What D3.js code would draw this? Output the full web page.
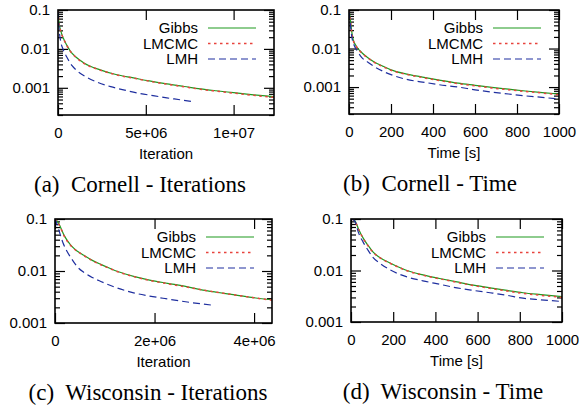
<!DOCTYPE html>
<html>
<head>
<meta charset="utf-8">
<script src="https://cdn.jsdelivr.net/npm/d3@7/dist/d3.min.js"></script>
<style>
	body { margin: 0; background: #fff; }
	svg { display: block; }
	.tick text { font-family: "Liberation Sans", Arial, sans-serif; font-size: 15px; fill: #000; }
	.tick line { stroke: #000; stroke-width: 1.2px; }
</style>
</head>
<body>
<svg id="chart" width="579" height="409"></svg>
<script>
// series names / legend
var seriesNames = ["Gibbs", "LMCMC", "LMH"];

// (a) Cornell - Iterations
var cornellIterX     = [0, 0.05e6, 0.15e6, 0.3e6, 0.5e6, 0.7e6, 1e6, 1.5e6, 2.4e6, 3.3e6, 4.3e6, 5.2e6, 6.2e6, 7.2e6, 8.1e6, 9e6, 10e6, 11e6, 12.3e6];
var cornellIterGibbs = [0.095, 0.05, 0.03, 0.019, 0.0125, 0.0088, 0.0063, 0.0043, 0.0029, 0.0022, 0.0018, 0.0015, 0.00126, 0.00108, 0.00094, 0.00084, 0.00075, 0.00067, 0.00059];
var cornellIterLMCMC = [0.094, 0.049, 0.029, 0.0188, 0.0123, 0.0087, 0.0062, 0.0042, 0.00285, 0.00217, 0.00177, 0.00148, 0.00124, 0.00106, 0.00092, 0.00082, 0.00073, 0.00065, 0.00057];
var cornellIterLMHX  = [0, 0.05e6, 0.15e6, 0.3e6, 0.5e6, 0.8e6, 1.1e6, 1.6e6, 2.2e6, 3e6, 3.8e6, 4.7e6, 5.5e6, 6.2e6, 7e6, 7.66e6];
var cornellIterLMH   = [0.09, 0.037, 0.016, 0.0095, 0.0062, 0.0037, 0.0027, 0.0019, 0.00142, 0.00107, 0.00087, 0.00071, 0.00062, 0.00055, 0.00049, 0.00044];

// (b) Cornell - Time
var cornellTimeX     = [0, 5, 12, 20, 35, 60, 90, 120, 160, 200, 270, 350, 430, 520, 600, 680, 760, 840, 920, 1000];
var cornellTimeGibbs = [0.095, 0.066, 0.03, 0.017, 0.0115, 0.0079, 0.0058, 0.0045, 0.0035, 0.0028, 0.0022, 0.00182, 0.00152, 0.00126, 0.00111, 0.00098, 0.00088, 0.00079, 0.00072, 0.00066];
var cornellTimeLMCMC = [0.094, 0.064, 0.029, 0.0165, 0.0112, 0.0077, 0.0057, 0.0044, 0.0034, 0.00272, 0.00215, 0.00177, 0.00148, 0.00123, 0.00108, 0.00095, 0.00085, 0.00077, 0.0007, 0.00063];
var cornellTimeLMHX  = [0, 5, 10, 15, 25, 40, 60, 90, 120, 160, 200, 270, 350, 430, 520, 600, 680, 760, 840, 920, 1000];
var cornellTimeLMH   = [0.09, 0.05, 0.028, 0.018, 0.012, 0.0085, 0.0059, 0.0044, 0.0034, 0.0026, 0.0021, 0.0016, 0.00135, 0.00115, 0.001, 0.00085, 0.00074, 0.00066, 0.00059, 0.00054, 0.00049];

// (c) Wisconsin - Iterations
var wiscIterX     = [0, 0.03e6, 0.08e6, 0.18e6, 0.32e6, 0.45e6, 0.58e6, 0.75e6, 0.92e6, 1.1e6, 1.26e6, 1.58e6, 1.9e6, 2.26e6, 2.6e6, 2.92e6, 3.25e6, 3.58e6, 3.95e6, 4.36e6];
var wiscIterGibbs = [0.1, 0.095, 0.08, 0.049, 0.031, 0.024, 0.02, 0.016, 0.0134, 0.0113, 0.0098, 0.0079, 0.0067, 0.0058, 0.0051, 0.0044, 0.0039, 0.0035, 0.0031, 0.0028];
var wiscIterLMCMC = [0.1, 0.094, 0.079, 0.048, 0.0305, 0.0237, 0.0198, 0.0158, 0.0132, 0.0112, 0.0097, 0.0078, 0.0066, 0.0057, 0.005, 0.0044, 0.0039, 0.0035, 0.0031, 0.00275];
var wiscIterLMHX  = [0, 0.03e6, 0.08e6, 0.16e6, 0.24e6, 0.32e6, 0.45e6, 0.58e6, 0.75e6, 0.92e6, 1.2e6, 1.58e6, 1.9e6, 2.26e6, 2.7e6, 3.16e6];
var wiscIterLMH   = [0.1, 0.085, 0.06, 0.035, 0.024, 0.018, 0.012, 0.0094, 0.0075, 0.0063, 0.0049, 0.0038, 0.0033, 0.0029, 0.0025, 0.0022];

// (d) Wisconsin - Time
var wiscTimeX     = [5, 19, 35, 57, 80, 104, 140, 185, 225, 265, 341, 420, 502, 580, 659, 740, 815, 900, 1000];
var wiscTimeGibbs = [0.1, 0.092, 0.065, 0.043, 0.031, 0.023, 0.0175, 0.014, 0.0117, 0.01, 0.0082, 0.007, 0.006, 0.0052, 0.0046, 0.0041, 0.0037, 0.0034, 0.0031];
var wiscTimeLMCMC = [0.1, 0.091, 0.064, 0.0425, 0.0305, 0.0227, 0.0173, 0.0138, 0.0116, 0.0099, 0.0081, 0.0069, 0.0059, 0.0051, 0.0045, 0.004, 0.0036, 0.0033, 0.003];
var wiscTimeLMH   = [0.1, 0.09, 0.055, 0.036, 0.025, 0.018, 0.0135, 0.0103, 0.0086, 0.0075, 0.0063, 0.0054, 0.0046, 0.0041, 0.0037, 0.0033, 0.0029, 0.0027, 0.0025];

// axis ticks
var iterTicksCornell = [0, 5e6, 1e7];
var iterTicksWisc    = [0, 2e6, 4e6];
var timeTicks        = [0, 200, 400, 600, 800, 1000];
var yMajorTicks      = [0.001, 0.01, 0.1];

var colors	= { Gibbs: "#1f9a1f", LMCMC: "#e8433d", LMH: "#1f2f9f" },
	dashes	= { Gibbs: null, LMCMC: "2.5,3.5", LMH: "7,4" },
	widths	= { Gibbs: 1.2, LMCMC: 1.5, LMH: 1.2 };

function sciFmt(v) {
	if (v === 0) return "0";
	return d3.format(".0e")(v).replace(/e([+-])(\d)$/, "e$10$2");
}

var panels = [
	{ left: 58, top: 10, right: 274, bottom: 115, xmax: 1.23e7, ymin: 0.0002, xticks: iterTicksCornell, fmt: sciFmt,
	  xlabel: "Iteration", caption: "(a)  Cornell - Iterations", capX: 140,
	  series: [[cornellIterX, cornellIterGibbs], [cornellIterX, cornellIterLMCMC], [cornellIterLMHX, cornellIterLMH]] },
	{ left: 349, top: 10, right: 559, bottom: 114, xmax: 1000, ymin: 0.0002, xticks: timeTicks, fmt: d3.format("d"),
	  xlabel: "Time [s]", caption: "(b)  Cornell - Time", capX: 430,
	  series: [[cornellTimeX, cornellTimeGibbs], [cornellTimeX, cornellTimeLMCMC], [cornellTimeLMHX, cornellTimeLMH]] },
	{ left: 55, top: 219, right: 272, bottom: 323, xmax: 4.36e6, ymin: 0.001, xticks: iterTicksWisc, fmt: sciFmt,
	  xlabel: "Iteration", caption: "(c)  Wisconsin - Iterations", capX: 148,
	  series: [[wiscIterX, wiscIterGibbs], [wiscIterX, wiscIterLMCMC], [wiscIterLMHX, wiscIterLMH]] },
	{ left: 351, top: 219, right: 562, bottom: 322, xmax: 1000, ymin: 0.001, xticks: timeTicks, fmt: d3.format("d"),
	  xlabel: "Time [s]", caption: "(d)  Wisconsin - Time", capX: 443,
	  series: [[wiscTimeX, wiscTimeGibbs], [wiscTimeX, wiscTimeLMCMC], [wiscTimeX, wiscTimeLMH]] }
];

var svg = d3.select("#chart");

panels.forEach(function(p, pi) {
	var w = p.right - p.left, h = p.bottom - p.top;
	var x = d3.scaleLinear().domain([0, p.xmax]).range([0, w]);
	var y = d3.scaleLog().domain([p.ymin, 0.1]).range([h, 0]);
	var minor = y.ticks().filter(function(t) { return yMajorTicks.indexOf(+t.toPrecision(3)) < 0; });
	var g = svg.append("g").attr("transform", "translate(" + p.left + "," + p.top + ")");

	var clipId = "clip" + pi;
	g.append("clipPath").attr("id", clipId).append("rect").attr("width", w).attr("height", h);

	// axes, ticks pointing inward
	g.append("g").attr("transform", "translate(0," + h + ")")
		.call(d3.axisBottom(x).tickValues(p.xticks).tickSize(-10).tickPadding(12).tickFormat(p.fmt));
	g.append("g").call(d3.axisTop(x).tickValues(p.xticks).tickSize(-10).tickFormat(""));
	g.append("g").call(d3.axisLeft(y).tickValues(yMajorTicks).tickSize(-10).tickPadding(8).tickFormat(d3.format("~g")));
	g.append("g").call(d3.axisLeft(y).tickValues(minor).tickSize(-5).tickFormat(""));
	g.append("g").attr("transform", "translate(" + w + ",0)")
		.call(d3.axisRight(y).tickValues(yMajorTicks).tickSize(-10).tickFormat(""));
	g.append("g").attr("transform", "translate(" + w + ",0)")
		.call(d3.axisRight(y).tickValues(minor).tickSize(-5).tickFormat(""));
	g.selectAll(".domain").remove();

	// curves
	var line = d3.line().curve(d3.curveMonotoneX)
		.x(function(d) { return x(d[0]); })
		.y(function(d) { return y(d[1]); });
	var lines = g.append("g").attr("clip-path", "url(#" + clipId + ")");
	p.series.forEach(function(s, i) {
		var name = seriesNames[i];
		lines.append("path").datum(d3.zip(s[0], s[1]))
			.attr("d", line)
			.attr("fill", "none")
			.attr("stroke", colors[name])
			.attr("stroke-width", widths[name])
			.attr("stroke-dasharray", dashes[name]);
	});

	// legend
	var leg = g.append("g");
	seriesNames.forEach(function(name, i) {
		var ly = 18 + i * 15.5;
		leg.append("text")
			.attr("x", w - 76).attr("y", ly).attr("dy", "0.36em")
			.attr("text-anchor", "end")
			.style("font-family", "Liberation Sans, Arial, sans-serif")
			.style("font-size", "15px")
			.text(name);
		leg.append("line")
			.attr("x1", w - 66).attr("x2", w - 18)
			.attr("y1", ly).attr("y2", ly)
			.attr("stroke", colors[name])
			.attr("stroke-width", widths[name])
			.attr("stroke-dasharray", dashes[name]);
	});

	// frame
	g.append("rect").attr("width", w).attr("height", h)
		.attr("fill", "none").attr("stroke", "#000").attr("stroke-width", 1.6);

	// x label and caption
	g.append("text")
		.attr("x", w / 2).attr("y", h + 44)
		.attr("text-anchor", "middle")
		.style("font-family", "Liberation Sans, Arial, sans-serif")
		.style("font-size", "15px")
		.text(p.xlabel);
	svg.append("text")
		.attr("x", p.capX).attr("y", p.bottom + 77)
		.attr("text-anchor", "middle")
		.style("white-space", "pre")
		.style("font-family", "Liberation Serif, Times New Roman, serif")
		.style("font-size", "23px")
		.text(p.caption);
});
</script>
</body>
</html>
